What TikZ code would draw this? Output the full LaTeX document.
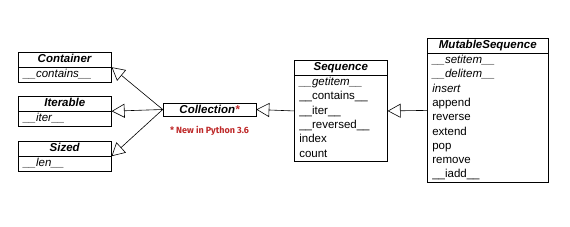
\documentclass[tikz,border=0pt]{standalone}
\usepackage{fontspec}
\setmainfont{Liberation Sans}
\newfontfamily\notefont{Fira Sans}
\usepackage{tikz}
\usetikzlibrary{
  arrows.meta,
  positioning,
  shapes.multipart
}
\definecolor{notered}{RGB}{190,40,40}
\tikzset{
  umlclass/.style={draw, rectangle split, rectangle split parts=2,
    inner xsep=5pt, inner ysep=0pt, align=left, line width=0.6pt,
    font=\fontsize{11.5}{14.3}\selectfont},
  umlplain/.style={draw, inner sep=0pt, line width=0.6pt,
    minimum width=93pt, minimum height=13pt,
    font=\fontsize{11.5}{14.3}\selectfont\bfseries\itshape},
  inherit/.style={-{Triangle[open, length=13pt, width=14pt]}, line width=0.6pt},
}
\newcommand{\clsname}[1]{\centering\textbf{\textit{#1}}\strut\par}
\newcommand{\dunder}[1]{\_\_#1\_\_}

\begin{document}
\begin{tikzpicture}[x=1pt, y=1pt]
  \useasboundingbox (0,0) rectangle (570,227);

  % abstract bases on the left
  \node[umlclass, text width=83pt, anchor=north west] (container) at (18,175)
    {\clsname{Container}\nodepart{two}\strut\textit{\dunder{contains}}\strut};
  \node[umlclass, text width=83pt, anchor=north west] (iterable) at (18,131)
    {\clsname{Iterable}\nodepart{two}\strut\textit{\dunder{iter}}\strut};
  \node[umlclass, text width=83pt, anchor=north west] (sized) at (18,86)
    {\clsname{Sized}\nodepart{two}\strut\textit{\dunder{len}}\strut};

  % Collection
  \node[umlplain] (coll) at (209.5,117.5) {Collection\textcolor{notered}{*}};
  \node[below=10pt of coll, font=\notefont\bfseries\fontsize{9}{10}\selectfont,
        text=notered, inner sep=0pt] (note) {* New in Python 3.6};

  % Sequence
  \node[umlclass, text width=83pt, anchor=north west] (seq) at (294,167)
    {\clsname{Sequence}\nodepart{two}\strut\textit{\dunder{getitem}}\\
     \dunder{contains}\\
     \dunder{iter}\\
     \dunder{reversed}\\
     index\\
     count\strut};

  % MutableSequence
  \node[umlclass, text width=111pt, anchor=north west] (mutseq) at (427,189)
    {\clsname{MutableSequence}\nodepart{two}\strut\textit{\dunder{setitem}}\\
     \textit{\dunder{delitem}}\\
     \textit{insert}\\
     append\\
     reverse\\
     extend\\
     pop\\
     remove\\
     \dunder{iadd}\strut};

  % inheritance arrows
  \draw[inherit] (coll.west) -- (container.east);
  \draw[inherit] (coll.west) -- (iterable.east);
  \draw[inherit] (coll.west) -- (sized.east);
  \draw[inherit] (seq.west) -- (coll.east);
  \draw[inherit] (mutseq.west) -- (seq.east);
\end{tikzpicture}
\end{document}
